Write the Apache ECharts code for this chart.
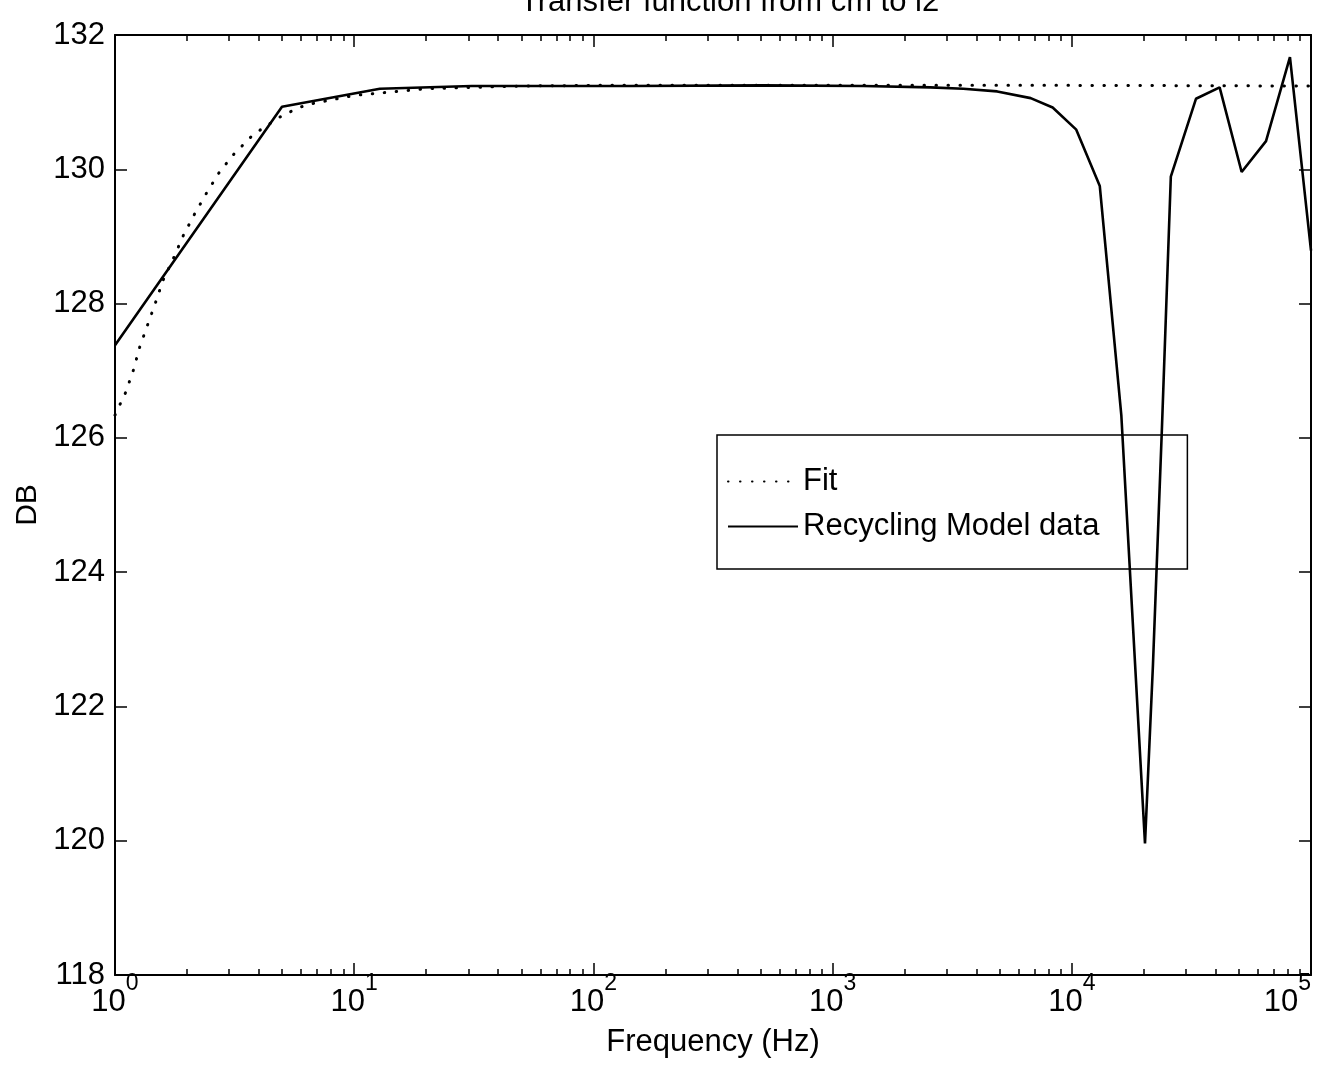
<!DOCTYPE html>
<html>
<head>
<meta charset="utf-8">
<script src="https://cdn.jsdelivr.net/npm/echarts@6/dist/echarts.min.js"></script>
<style>
html,body{margin:0;padding:0;background:#fff;}
#chart{width:1325px;height:1069px;}
</style>
</head>
<body>
<div id="chart"></div>
<script>
// ---- data ----
const titleText = 'Transfer function from cm to l2';
const xAxisName = 'Frequency (Hz)';
const yAxisName = 'DB';
const seriesNames = ['Fit', 'Recycling Model data'];

const fitFreq = [1, 1.109, 1.194, 1.268, 1.374, 1.479, 1.589, 1.758, 1.928, 2.148, 2.399, 2.735, 3.148, 3.793, 5.047, 6.281, 10, 20, 50, 100, 1000, 10000, 100000];
const fitDb   = [126.34, 126.68, 127.01, 127.35, 127.70, 128.02, 128.35, 128.68, 129.01, 129.33, 129.63, 129.96, 130.23, 130.52, 130.81, 130.96, 131.10, 131.20, 131.24, 131.25, 131.25, 131.25, 131.24];

const modelFreq = [1, 4.99, 12.8, 31, 142, 512, 1343, 2559, 3516, 4875, 6730, 8318, 10440, 13092, 16106, 20230, 21830, 23820, 25940, 33040, 41500, 51290, 64860, 81660, 100000];
const modelDb   = [127.38, 130.93, 131.20, 131.24, 131.24, 131.25, 131.24, 131.22, 131.20, 131.16, 131.06, 130.92, 130.59, 129.75, 126.34, 119.96, 122.6, 126.16, 129.89, 131.05, 131.22, 129.96, 130.42, 131.67, 128.79];

const yMin = 118, yMax = 132, yStep = 2;
const xMin = 1, xMax = 100000;
const decadeExponents = [0, 1, 2, 3, 4];
const minorMultipliers = [2, 3, 4, 5, 6, 7, 8, 9];

// ---- build ----
const fitData = fitFreq.map((f, i) => [f, fitDb[i]]);
const modelData = modelFreq.map((f, i) => [f, modelDb[i]]);
const minorLog = [];
decadeExponents.forEach(d => minorMultipliers.forEach(m => minorLog.push(Math.log10(m * Math.pow(10, d)))));

const FONT = '"Liberation Sans", Arial, Helvetica, sans-serif';
const black = '#000';

const chart = echarts.init(document.getElementById('chart'), null, {renderer: 'canvas'});

const minorAxis = (pos) => ({
  type: 'value', min: 0, max: 5, position: pos, gridIndex: 0,
  axisLine: {show: false},
  axisLabel: {show: false},
  splitLine: {show: false},
  axisTick: {show: true, inside: true, length: 6, customValues: minorLog, lineStyle: {color: black, width: 1.5}}
});

const option = {
  animation: false,
  backgroundColor: '#fff',
  textStyle: {fontFamily: FONT, color: black},
  title: {
    text: titleText,
    left: 515, top: -18,
    textStyle: {fontFamily: FONT, fontSize: 31, fontWeight: 'normal', color: black}
  },
  legend: {
    data: seriesNames,
    orient: 'vertical',
    align: 'left',
    left: 717, top: 435,
    padding: [31, 88, 27, 10],
    itemGap: 14,
    itemWidth: 70, itemHeight: 14,
    borderColor: black, borderWidth: 1.5,
    backgroundColor: 'transparent',
    itemStyle: {color: 'rgba(0,0,0,0)', borderWidth: 0, opacity: 0},
    textStyle: {fontFamily: FONT, fontSize: 31, color: black, lineHeight: 31}
  },
  grid: {left: 115, right: 14, top: 35, bottom: 94, containLabel: false, outerBoundsMode: 'none'},
  xAxis: [
    {
      type: 'log', logBase: 10, min: xMin, max: xMax, position: 'bottom',
      axisLine: {show: true, onZero: false, lineStyle: {color: black, width: 2}},
      axisTick: {show: true, inside: true, length: 12, lineStyle: {color: black, width: 1.5}},
      splitLine: {show: false},
      axisLabel: {
        margin: -3,
        alignMaxLabel: 'right',
        formatter: v => '{b|10}{s|' + Math.round(Math.log10(v)) + '}',
        rich: {
          b: {fontFamily: FONT, fontSize: 31, lineHeight: 46, verticalAlign: 'bottom', color: black},
          s: {fontFamily: FONT, fontSize: 23, lineHeight: 23, verticalAlign: 'top', color: black}
        }
      },
      name: xAxisName, nameLocation: 'middle', nameGap: 52,
      nameTextStyle: {fontFamily: FONT, fontSize: 31, color: black}
    },
    minorAxis('bottom'),
    {
      type: 'log', logBase: 10, min: xMin, max: xMax, position: 'top',
      axisLine: {show: true, onZero: false, lineStyle: {color: black, width: 2}},
      axisTick: {show: true, inside: true, length: 12, lineStyle: {color: black, width: 1.5}},
      axisLabel: {show: false},
      splitLine: {show: false}
    },
    minorAxis('top')
  ],
  yAxis: [
    {
      type: 'value', min: yMin, max: yMax, interval: yStep, position: 'left',
      axisLine: {show: true, onZero: false, lineStyle: {color: black, width: 2}},
      axisTick: {show: true, inside: true, length: 12, lineStyle: {color: black, width: 1.5}},
      splitLine: {show: false},
      axisLabel: {margin: 10, fontFamily: FONT, fontSize: 31, color: black},
      name: yAxisName, nameLocation: 'middle', nameGap: 70,
      nameTextStyle: {fontFamily: FONT, fontSize: 30, color: black}
    },
    {
      type: 'value', min: yMin, max: yMax, interval: yStep, position: 'right',
      axisLine: {show: true, onZero: false, lineStyle: {color: black, width: 2}},
      axisTick: {show: true, inside: true, length: 12, lineStyle: {color: black, width: 1.5}},
      splitLine: {show: false},
      axisLabel: {show: false}
    }
  ],
  series: [
    {
      name: seriesNames[0], type: 'line', xAxisIndex: 0, yAxisIndex: 0,
      data: fitData, symbol: 'none', color: black,
      lineStyle: {color: black, width: 3, type: [0.5, 11.5], cap: 'round'}
    },
    {
      name: seriesNames[1], type: 'line', xAxisIndex: 0, yAxisIndex: 0,
      data: modelData, symbol: 'none', color: black,
      lineStyle: {color: black, width: 2.6, type: 'solid'}
    }
  ]
};
chart.setOption(option);
</script>
</body>
</html>
